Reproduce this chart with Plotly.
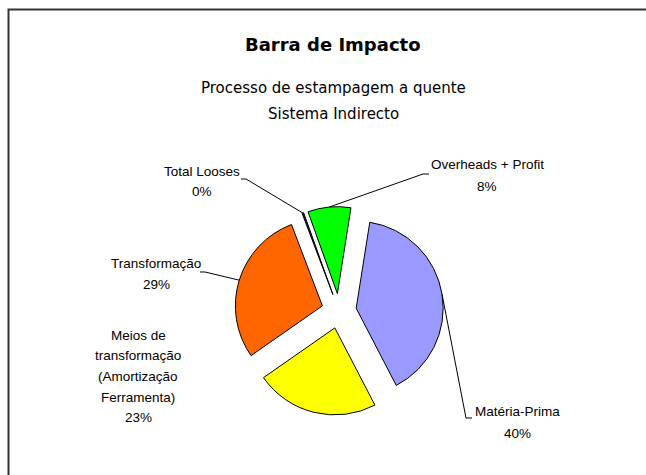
import math
import plotly.graph_objects as go

# Cost breakdown of the hot-stamping process (indirect system)
labels = [
    "Matéria-Prima",
    "Meios de transformação (Amortização Ferramenta)",
    "Transformação",
    "Total Looses",
    "Overheads + Profit",
]
values = [40, 23, 29, 0.3, 8]
colors = ["#9999FF", "#FFFF00", "#FF6600", "#222222", "#00FF00"]

# label text split into the lines shown beside each slice
label_lines = [
    ["Matéria-Prima"],
    ["Meios de", "transformação", "(Amortização", "Ferramenta)"],
    ["Transformação"],
    ["Total Looses"],
    ["Overheads + Profit"],
]

W, H = 646, 475
PIE_CX, PIE_CY, PIE_R = 339, 311, 87      # pie centre / radius in pixels
PULL = 0.2
ROTATION = 9

# pie domain: Plotly sizes r = box / (2 + 2*maxPull)
half = PIE_R * (1 + PULL)
dom_x = [(PIE_CX - half) / W, (PIE_CX + half) / W]
dom_y = [1 - (PIE_CY + half) / H, 1 - (PIE_CY - half) / H]

fig = go.Figure(
    go.Pie(
        labels=labels,
        values=values,
        sort=False,
        direction="clockwise",
        rotation=ROTATION,
        pull=[PULL] * len(values),
        marker=dict(colors=colors, line=dict(color="#000000", width=1)),
        textinfo="none",
        hoverinfo="label+percent",
        showlegend=False,
        domain=dict(x=dom_x, y=dom_y),
    )
)

total = sum(values)


def px(x, y):
    return x / W, 1 - y / H


# mid-angle outer-arc point of each (pulled) slice, in pixels
arc_pts = []
acc = 0.0
for v in values:
    mid = math.radians(ROTATION + 360 * (acc + v / 2) / total)
    acc += v
    cx = PIE_CX + PULL * PIE_R * math.sin(mid)
    cy = PIE_CY - PULL * PIE_R * math.cos(mid)
    arc_pts.append((cx + PIE_R * math.sin(mid), cy - PIE_R * math.cos(mid)))

# label placement: (centre x, first line y, line step, leader elbow points)
label_pos = [
    (517, 411, 22, [(466, 418), (472, 418)]),
    (138, 335, 20.7, None),
    (156, 263, 21, [(205, 272), (200, 272)]),
    (202, 171, 20.5, [(246, 179), (241, 179)]),
    (487, 165, 21, [(423, 174), (429, 174)]),
]

shapes = []
annotations = []
LABEL_FONT = dict(family="Liberation Sans, Arial, sans-serif", size=13.5, color="#000000")

for i, (lx, ly, step, elbow) in enumerate(label_pos):
    pct = values[i] / total
    lines = label_lines[i] + [f"{pct:.0%}"]
    for k, t in enumerate(lines):
        x, y = px(lx, ly + k * step)
        annotations.append(dict(
            x=x, y=y, xref="paper", yref="paper", text=t, showarrow=False,
            xanchor="center", yanchor="middle", font=LABEL_FONT,
        ))
    if elbow:
        pts = [arc_pts[i]] + elbow
        path = "M " + " L ".join(f"{px(a, b)[0]:.5f},{px(a, b)[1]:.5f}" for a, b in pts)
        shapes.append(dict(type="path", xref="paper", yref="paper", path=path,
                           line=dict(color="#000000", width=1)))

# outer chart frame (runs off the right and bottom edges)
shapes.append(dict(type="rect", xref="paper", yref="paper",
                   x0=8.5 / W, y0=1 - 500 / H, x1=680 / W, y1=1 - 9.5 / H,
                   line=dict(color="#333333", width=2), fillcolor="rgba(0,0,0,0)", layer="below"))

TITLE_FONT = "DejaVu Sans, Verdana, sans-serif"
TITLE_X = 333
annotations.append(dict(x=px(TITLE_X, 45)[0], y=px(TITLE_X, 45)[1], xref="paper", yref="paper",
                        text="<b>Barra de Impacto</b>", showarrow=False,
                        xanchor="center", yanchor="middle",
                        font=dict(family=TITLE_FONT, size=18, color="#000000")))
for k, t in enumerate(["Processo de estampagem a quente", "Sistema Indirecto"]):
    x, y = px(TITLE_X, 88 + 26 * k)
    annotations.append(dict(x=x, y=y, xref="paper", yref="paper", text=t, showarrow=False,
                            xanchor="center", yanchor="middle",
                            font=dict(family=TITLE_FONT, size=15, color="#000000")))

fig.update_layout(
    width=W, height=H,
    margin=dict(l=0, r=0, t=0, b=0),
    paper_bgcolor="#FFFFFF",
    plot_bgcolor="#FFFFFF",
    shapes=shapes,
    annotations=annotations,
)

fig.write_html("out.html")
